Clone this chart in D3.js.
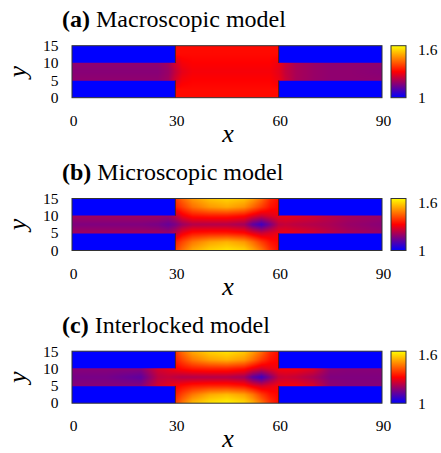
<!DOCTYPE html>
<html>
<head>
<meta charset="utf-8">
<script src="https://cdn.jsdelivr.net/npm/d3@7"></script>
<style>
  body { margin: 0; background: #fff; }
</style>
</head>
<body>
<div id="chart"></div>
<script>
// colour scale (gnuplot style palette: blue -> red -> yellow)
const colorDomain = [1, 1.3, 1.6];
const colorRange = ["#0000ff", "#ff0000", "#ffff00"];
const cbTicks = [1, 1.6];

const xTicks = [0, 30, 60, 90];
const yTicks = [0, 5, 10, 15];

// geometry of the domain: horizontal channel + central block
const channelY = [5, 10];
const blockX = [30, 60];

// sample positions along x
const chX = [0, 10, 20, 25, 28, 30, 32, 35, 40, 45, 50, 52.5, 55, 57.5, 60, 62, 65, 70, 75, 80, 90]; // rows y = 5, 7.5, 10
const ctX = [30, 32, 35, 40, 45, 50, 52.5, 55, 57.5, 60]; // rows inside block only

const panelLetters = ["(a)", "(b)", "(c)"];
const panelNames = ["Macroscopic model", "Microscopic model", "Interlocked model"];

// (a) macroscopic
const macroWall = [1.17, 1.17, 1.17, 1.17, 1.19, 1.25, 1.29, 1.30, 1.30, 1.30, 1.30, 1.30, 1.30, 1.30, 1.28, 1.24, 1.20, 1.18, 1.17, 1.17, 1.17];
const macroMid = [1.16, 1.16, 1.16, 1.16, 1.18, 1.23, 1.27, 1.29, 1.29, 1.29, 1.29, 1.29, 1.29, 1.29, 1.27, 1.23, 1.20, 1.18, 1.17, 1.17, 1.16];
const macroTop = [1.31, 1.31, 1.31, 1.31, 1.31, 1.31, 1.31, 1.31, 1.31, 1.31];
const macroUpper = [1.31, 1.31, 1.31, 1.31, 1.31, 1.31, 1.31, 1.31, 1.31, 1.31];
const macroLower = [1.31, 1.31, 1.31, 1.31, 1.31, 1.31, 1.31, 1.31, 1.31, 1.31];
const macroBottom = [1.31, 1.31, 1.31, 1.31, 1.31, 1.31, 1.31, 1.31, 1.31, 1.31];

// (b) microscopic
const microWall = [1.19, 1.19, 1.19, 1.19, 1.18, 1.22, 1.28, 1.32, 1.33, 1.33, 1.31, 1.27, 1.24, 1.26, 1.28, 1.28, 1.27, 1.25, 1.22, 1.20, 1.18];
const microMid = [1.15, 1.15, 1.15, 1.14, 1.12, 1.14, 1.18, 1.21, 1.21, 1.21, 1.19, 1.11, 1.07, 1.14, 1.22, 1.23, 1.22, 1.21, 1.20, 1.18, 1.16];
const microTop = [1.36, 1.42, 1.48, 1.53, 1.55, 1.53, 1.49, 1.43, 1.35, 1.31];
const microUpper = [1.33, 1.37, 1.43, 1.48, 1.50, 1.47, 1.42, 1.37, 1.32, 1.30];
const microLower = [1.33, 1.38, 1.44, 1.49, 1.51, 1.48, 1.43, 1.37, 1.32, 1.30];
const microBottom = [1.37, 1.43, 1.50, 1.55, 1.57, 1.55, 1.50, 1.44, 1.36, 1.31];

// (c) interlocked
const interWall = [1.16, 1.16, 1.16, 1.25, 1.27, 1.29, 1.31, 1.33, 1.34, 1.34, 1.32, 1.28, 1.25, 1.27, 1.29, 1.29, 1.29, 1.26, 1.17, 1.16, 1.16];
const interMid = [1.14, 1.14, 1.11, 1.22, 1.23, 1.22, 1.21, 1.21, 1.21, 1.21, 1.19, 1.11, 1.07, 1.15, 1.23, 1.24, 1.23, 1.20, 1.15, 1.15, 1.15];
const interTop = [1.36, 1.43, 1.50, 1.55, 1.57, 1.54, 1.49, 1.43, 1.35, 1.31];
const interUpper = [1.33, 1.38, 1.44, 1.49, 1.51, 1.48, 1.43, 1.37, 1.32, 1.30];
const interLower = [1.33, 1.38, 1.44, 1.50, 1.52, 1.49, 1.44, 1.37, 1.32, 1.30];
const interBottom = [1.37, 1.44, 1.52, 1.57, 1.59, 1.56, 1.51, 1.44, 1.36, 1.31];

const fields = [
  { wall: macroWall, mid: macroMid, top: macroTop, upper: macroUpper, lower: macroLower, bottom: macroBottom },
  { wall: microWall, mid: microMid, top: microTop, upper: microUpper, lower: microLower, bottom: microBottom },
  { wall: interWall, mid: interMid, top: interTop, upper: interUpper, lower: interLower, bottom: interBottom },
];

const config = {
  width: 441,
  height: 453,
  left: 72,
  plotWidth: 310,
  plotHeight: 52,
  tops: [45.7, 198.5, 351.2],
  cbX: 391,
  cbWidth: 15,
  font: "'Liberation Serif'",
};

const svg = d3
  .select("#chart")
  .append("svg")
  .attr("width", config.width)
  .attr("height", config.height);

const x = d3.scaleLinear().domain([0, 90]).range([0, config.plotWidth]);
const y = d3.scaleLinear().domain([0, 15]).range([config.plotHeight, 0]);
const color = d3.scaleLinear().domain(colorDomain).range(colorRange).clamp(true);

// gradient for the colour bar
const grad = svg
  .append("defs")
  .append("linearGradient")
  .attr("id", "cbgrad")
  .attr("x1", 0).attr("y1", 1).attr("x2", 0).attr("y2", 0);
grad
  .selectAll("stop")
  .data(colorDomain)
  .enter()
  .append("stop")
  .attr("offset", (d) => (d - colorDomain[0]) / (colorDomain[2] - colorDomain[0]))
  .attr("stop-color", (d) => color(d));

function drawField(f) {
  const wall = d3.scaleLinear().domain(chX).range(f.wall).clamp(true);
  const mid = d3.scaleLinear().domain(chX).range(f.mid).clamp(true);
  const top = d3.scaleLinear().domain(ctX).range(f.top).clamp(true);
  const upper = d3.scaleLinear().domain(ctX).range(f.upper).clamp(true);
  const lower = d3.scaleLinear().domain(ctX).range(f.lower).clamp(true);
  const bottom = d3.scaleLinear().domain(ctX).range(f.bottom).clamp(true);

  const canvas = document.createElement("canvas");
  canvas.width = config.plotWidth;
  canvas.height = config.plotHeight;
  const ctx = canvas.getContext("2d");
  const img = ctx.createImageData(canvas.width, canvas.height);

  for (let j = 0; j < canvas.height; j++) {
    const yv = y.invert(j + 0.5);
    for (let i = 0; i < canvas.width; i++) {
      const xv = x.invert(i + 0.5);
      let v = colorDomain[0];
      if (xv >= blockX[0] && xv <= blockX[1]) {
        const w = wall(xv);
        v = d3
          .scaleLinear()
          .domain([0, 2.5, 5, 7.5, 10, 12.5, 15])
          .range([bottom(xv), lower(xv), w, mid(xv), w, upper(xv), top(xv)])(yv);
      } else if (yv >= channelY[0] && yv <= channelY[1]) {
        const w = wall(xv);
        v = d3.scaleLinear().domain([5, 7.5, 10]).range([w, mid(xv), w])(yv);
      }
      const c = d3.rgb(color(v));
      const k = (j * canvas.width + i) * 4;
      img.data[k] = c.r;
      img.data[k + 1] = c.g;
      img.data[k + 2] = c.b;
      img.data[k + 3] = 255;
    }
  }
  ctx.putImageData(img, 0, 0);
  return canvas.toDataURL();
}

// text helper so every label gets the serif font set directly
function label(sel, size) {
  return sel
    .append("text")
    .style("font-family", config.font)
    .style("font-size", size + "px")
    .attr("fill", "#000");
}

fields.forEach((f, p) => {
  const top = config.tops[p];
  const g = svg.append("g").attr("transform", `translate(${config.left},${top})`);

  // title
  const title = label(g, 24).attr("x", -10).attr("y", -18.5);
  title.append("tspan").style("font-weight", "bold").text(panelLetters[p]);
  title.append("tspan").text(" " + panelNames[p]);

  // heat map
  g.append("image")
    .attr("width", config.plotWidth)
    .attr("height", config.plotHeight)
    .attr("preserveAspectRatio", "none")
    .attr("href", drawField(f));

  // walls of the block
  [blockX[0], blockX[1]].forEach((bx) => {
    [[0, channelY[0]], [channelY[1], 15]].forEach((seg) => {
      g.append("line")
        .attr("x1", x(bx)).attr("x2", x(bx))
        .attr("y1", y(seg[0])).attr("y2", y(seg[1]))
        .attr("stroke", "#222")
        .attr("stroke-width", 0.8);
    });
  });

  // frame
  g.append("rect")
    .attr("width", config.plotWidth)
    .attr("height", config.plotHeight)
    .attr("fill", "none")
    .attr("stroke", "#333")
    .attr("stroke-width", 1);

  // tick labels
  xTicks.forEach((d) => {
    label(g, 15.5)
      .attr("x", x(d) + 1.5)
      .attr("y", config.plotHeight + 28)
      .attr("text-anchor", "middle")
      .text(d);
  });

  yTicks.forEach((d) => {
    label(g, 15.5)
      .attr("x", -13.5)
      .attr("y", y(d) + 5.3)
      .attr("text-anchor", "end")
      .text(d);
  });

  // axis labels
  label(g, 26)
    .attr("x", x(45) + 1)
    .attr("y", config.plotHeight + 44)
    .attr("text-anchor", "middle")
    .style("font-style", "italic")
    .text("x");

  label(g, 26)
    .attr("transform", `translate(${-config.left + 26},${config.plotHeight / 2}) rotate(-90)`)
    .attr("text-anchor", "middle")
    .style("font-style", "italic")
    .text("y");

  // colour bar
  const cb = d3.scaleLinear().domain([colorDomain[0], colorDomain[2]]).range([config.plotHeight, 0]);
  const cx = config.cbX - config.left;
  g.append("rect")
    .attr("x", cx)
    .attr("width", config.cbWidth)
    .attr("height", config.plotHeight)
    .attr("fill", "url(#cbgrad)")
    .attr("stroke", "#333")
    .attr("stroke-width", 1);

  cbTicks.forEach((d) => {
    label(g, 15.5)
      .attr("x", cx + config.cbWidth + 12)
      .attr("y", cb(d) + (d === 1 ? 5.5 : 9))
      .text(d);
  });
});
</script>
</body>
</html>
